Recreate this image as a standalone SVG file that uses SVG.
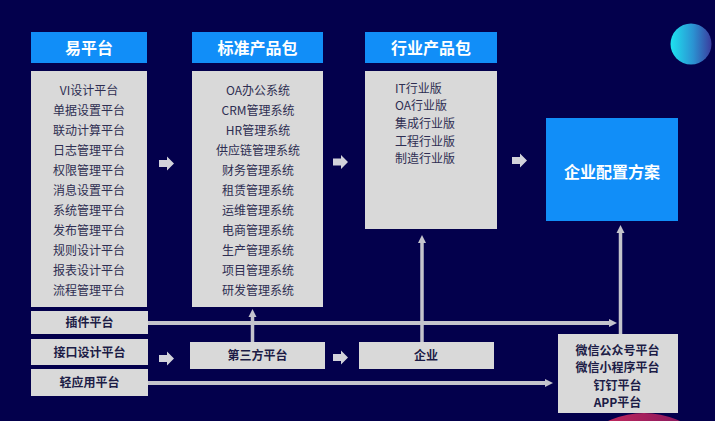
<svg xmlns="http://www.w3.org/2000/svg" width="715" height="421" viewBox="0 0 715 421">
<defs>
<style>
.hdr{fill:#118ef8}
.box{fill:#d9d9d9}
.ht{font-family:"Noto Sans CJK SC","Liberation Sans",sans-serif;font-size:16px;font-weight:bold;fill:#ffffff;text-anchor:middle}
.li{font-family:"Noto Sans CJK SC","Liberation Sans",sans-serif;font-size:12px;fill:#2e2e52}
.c{text-anchor:middle}
.bt{font-family:"Noto Sans CJK SC","Liberation Sans",sans-serif;font-size:12px;font-weight:bold;fill:#1c1c46;text-anchor:middle}
.ln{stroke:#c4c4cc;fill:none;marker-end:url(#ah)}
.blk{fill:#d2d2da}
</style>
<marker id="ah" viewBox="0 0 10 10" refX="0" refY="5" markerWidth="8" markerHeight="9" markerUnits="userSpaceOnUse" orient="auto">
<path d="M0,0 L10,5 L0,10 Z" fill="#c4c4cc"/>
</marker>
<path id="barrow" d="M0,-3.5 H8 V-7 L15,0 L8,7 V3.5 H0 Z"/>
<linearGradient id="gc" x1="0" y1="0" x2="1" y2="0">
<stop offset="0" stop-color="#1ee3f0"/>
<stop offset="0.55" stop-color="#2b93d2"/>
<stop offset="1" stop-color="#3a3c9e"/>
</linearGradient>
<linearGradient id="gr" x1="0" y1="0" x2="1" y2="0">
<stop offset="0" stop-color="#e0305a"/>
<stop offset="1" stop-color="#6a1060"/>
</linearGradient>
</defs>
<rect width="715" height="421" fill="#03004c"/>
<circle cx="691" cy="44" r="20.5" fill="url(#gc)"/>
<circle cx="644" cy="498" r="85" fill="url(#gr)"/>

<g id="connectors">
<line class="ln" x1="148" y1="323" x2="609" y2="323" stroke-width="4"/>
<line class="ln" x1="148" y1="383" x2="545" y2="383" stroke-width="4"/>
<line class="ln" x1="252.5" y1="342" x2="252.5" y2="317" stroke-width="3.5"/>
<line class="ln" x1="422" y1="347" x2="422" y2="243" stroke-width="3.5"/>
<line class="ln" x1="620.5" y1="334" x2="620.5" y2="233" stroke-width="3.5"/>
<use href="#barrow" class="blk" x="159" y="163.5"/>
<use href="#barrow" class="blk" x="333" y="162"/>
<use href="#barrow" class="blk" x="512" y="160.5"/>
<use href="#barrow" class="blk" x="159" y="358.5"/>
<use href="#barrow" class="blk" x="333" y="357.5"/>
</g>

<g id="yi-header">
<rect class="hdr" x="31" y="32" width="116" height="31"/>
<text class="ht" x="89" y="53.5">易平台</text>
</g>
<g id="std-header">
<rect class="hdr" x="192" y="32" width="131" height="31"/>
<text class="ht" x="257.5" y="53.5">标准产品包</text>
</g>
<g id="ind-header">
<rect class="hdr" x="365" y="32" width="132" height="31"/>
<text class="ht" x="431" y="53.5">行业产品包</text>
</g>

<g id="yi-list">
<rect class="box" x="31" y="71" width="116" height="236"/>
<text class="li c" x="89" y="94.5">VI设计平台</text>
<text class="li c" x="89" y="114.5">单据设置平台</text>
<text class="li c" x="89" y="134.5">联动计算平台</text>
<text class="li c" x="89" y="154.5">日志管理平台</text>
<text class="li c" x="89" y="174.5">权限管理平台</text>
<text class="li c" x="89" y="194.5">消息设置平台</text>
<text class="li c" x="89" y="214.5">系统管理平台</text>
<text class="li c" x="89" y="234.5">发布管理平台</text>
<text class="li c" x="89" y="254.5">规则设计平台</text>
<text class="li c" x="89" y="274.5">报表设计平台</text>
<text class="li c" x="89" y="294.5">流程管理平台</text>
</g>

<g id="std-list">
<rect class="box" x="192" y="71" width="131" height="236"/>
<text class="li c" x="258" y="94.5">OA办公系统</text>
<text class="li c" x="258" y="114.5">CRM管理系统</text>
<text class="li c" x="258" y="134.5">HR管理系统</text>
<text class="li c" x="258" y="154.5">供应链管理系统</text>
<text class="li c" x="258" y="174.5">财务管理系统</text>
<text class="li c" x="258" y="194.5">租赁管理系统</text>
<text class="li c" x="258" y="214.5">运维管理系统</text>
<text class="li c" x="258" y="234.5">电商管理系统</text>
<text class="li c" x="258" y="254.5">生产管理系统</text>
<text class="li c" x="258" y="274.5">项目管理系统</text>
<text class="li c" x="258" y="294.5">研发管理系统</text>
</g>

<g id="ind-list">
<rect class="box" x="365" y="71" width="132" height="158"/>
<text class="li" x="395" y="92.5">IT行业版</text>
<text class="li" x="395" y="110.2">OA行业版</text>
<text class="li" x="395" y="127.9">集成行业版</text>
<text class="li" x="395" y="145.6">工程行业版</text>
<text class="li" x="395" y="163.3">制造行业版</text>
</g>

<g id="enterprise-solution">
<rect class="hdr" x="546" y="118" width="132" height="103"/>
<text class="ht" x="612" y="177.5">企业配置方案</text>
</g>

<g id="plugin">
<rect class="box" x="31" y="311" width="117" height="23"/>
<text class="bt" x="89.5" y="327">插件平台</text>
</g>
<g id="interface">
<rect class="box" x="31" y="339" width="117" height="26"/>
<text class="bt" x="89.5" y="356.5">接口设计平台</text>
</g>
<g id="light-app">
<rect class="box" x="31" y="369" width="117" height="27"/>
<text class="bt" x="89.5" y="387">轻应用平台</text>
</g>
<g id="third-party">
<rect class="box" x="190" y="342" width="135" height="27"/>
<text class="bt" x="257.5" y="359.5">第三方平台</text>
</g>
<g id="enterprise">
<rect class="box" x="359" y="342" width="135" height="27"/>
<text class="bt" x="426" y="359.5">企业</text>
</g>
<g id="channels">
<rect class="box" x="558" y="334" width="120" height="79"/>
<text class="bt" x="617.5" y="354.5">微信公众号平台</text>
<text class="bt" x="617.5" y="372">微信小程序平台</text>
<text class="bt" x="617.5" y="389.5">钉钉平台</text>
<text class="bt" x="617.5" y="407">APP平台</text>
</g>
</svg>
